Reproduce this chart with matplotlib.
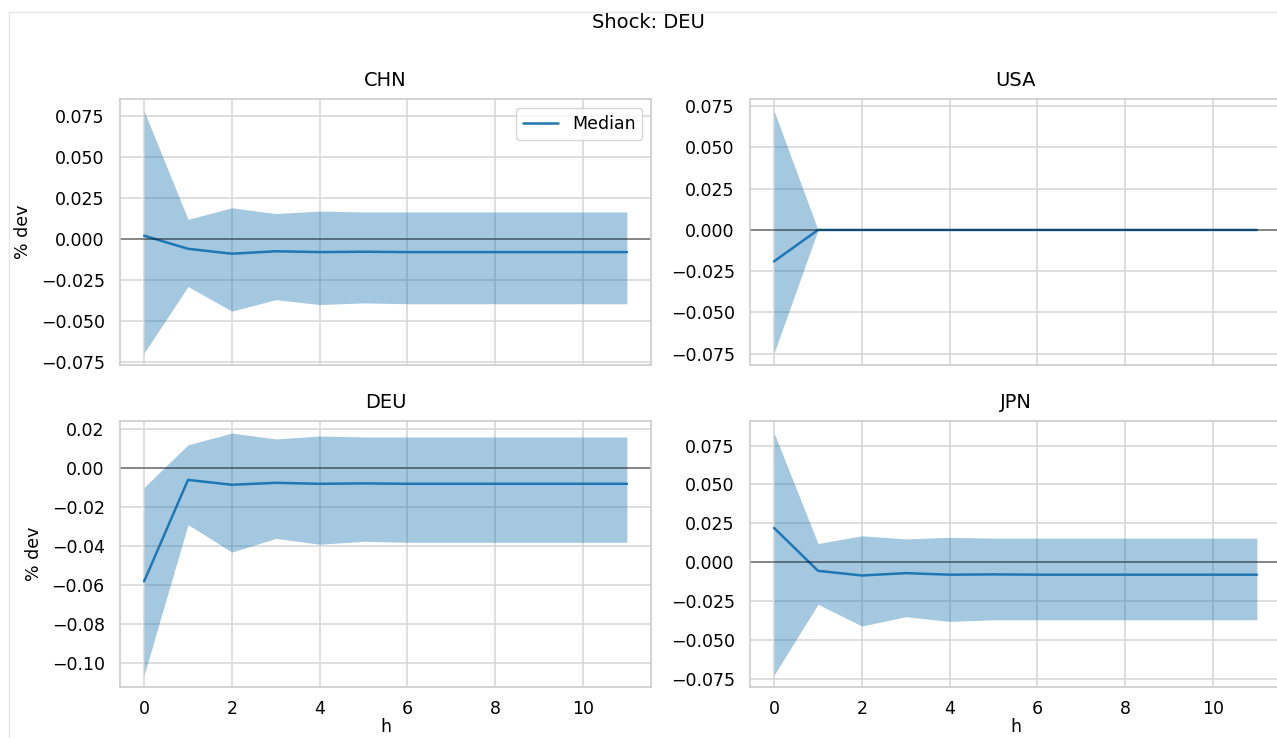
import numpy as np
import matplotlib.pyplot as plt
from matplotlib.lines import Line2D

# impulse responses to a DEU shock, horizons 0..11
h = list(range(12))

chn_median = [0.002, -0.006, -0.009, -0.0075, -0.008, -0.0078, -0.008, -0.008, -0.008, -0.008, -0.008, -0.008]
chn_lower = [-0.0695, -0.029, -0.044, -0.037, -0.040, -0.039, -0.0395, -0.0395, -0.0395, -0.0395, -0.0395, -0.0395]
chn_upper = [0.078, 0.012, 0.019, 0.0155, 0.017, 0.0165, 0.0165, 0.0165, 0.0165, 0.0165, 0.0165, 0.0165]

usa_median = [-0.019, 0, 0, 0, 0, 0, 0, 0, 0, 0, 0, 0]
usa_lower = [-0.0745, 0, 0, 0, 0, 0, 0, 0, 0, 0, 0, 0]
usa_upper = [0.072, 0, 0, 0, 0, 0, 0, 0, 0, 0, 0, 0]

deu_median = [-0.058, -0.006, -0.0085, -0.0075, -0.008, -0.0078, -0.008, -0.008, -0.008, -0.008, -0.008, -0.008]
deu_lower = [-0.106, -0.029, -0.043, -0.036, -0.039, -0.0375, -0.038, -0.038, -0.038, -0.038, -0.038, -0.038]
deu_upper = [-0.0098, 0.012, 0.018, 0.015, 0.0165, 0.016, 0.016, 0.016, 0.016, 0.016, 0.016, 0.016]

jpn_median = [0.022, -0.0055, -0.0085, -0.007, -0.008, -0.0078, -0.008, -0.008, -0.008, -0.008, -0.008, -0.008]
jpn_lower = [-0.0724, -0.027, -0.041, -0.035, -0.038, -0.037, -0.037, -0.037, -0.037, -0.037, -0.037, -0.037]
jpn_upper = [0.083, 0.012, 0.017, 0.015, 0.016, 0.0155, 0.0155, 0.0155, 0.0155, 0.0155, 0.0155, 0.0155]

countries = ["CHN", "USA", "DEU", "JPN"]
medians = [chn_median, usa_median, deu_median, jpn_median]
lowers = [chn_lower, usa_lower, deu_lower, jpn_lower]
uppers = [chn_upper, usa_upper, deu_upper, jpn_upper]

plt.style.use("seaborn-v0_8-whitegrid")
plt.rcParams["font.family"] = "DejaVu Sans"
plt.rcParams["xtick.labelsize"] = 12.5
plt.rcParams["ytick.labelsize"] = 12.5
plt.rcParams["axes.labelsize"] = 12.5
plt.rcParams["axes.titlesize"] = 14
plt.rcParams["text.color"] = "black"
plt.rcParams["axes.labelcolor"] = "black"
plt.rcParams["xtick.color"] = "black"
plt.rcParams["ytick.color"] = "black"

W, H = 1277.0, 738.0
fig = plt.figure(figsize=(12.77, 7.38), dpi=100)

# axes boxes in pixels: left, top, width, height
boxes = [(120, 99, 531, 266), (750, 99, 531, 266),
         (120, 421, 531, 266), (750, 421, 531, 266)]

axes = []
for i, (l, t, w, hh) in enumerate(boxes):
	ax = fig.add_axes([l / W, 1 - (t + hh) / H, w / W, hh / H])
	axes.append(ax)

for i, ax in enumerate(axes):
	ax.fill_between(h, lowers[i], uppers[i], color="C0", alpha=0.4, linewidth=0)
	ax.plot(h, medians[i], color="C0", linewidth=1.8, label="Median")
	ax.axhline(0, color="black", alpha=0.5, linewidth=1.1)
	ax.set_title(countries[i], pad=9)
	ax.set_xticks([0, 2, 4, 6, 8, 10])
	ax.tick_params(axis="y", pad=11)
	ax.tick_params(axis="x", pad=9)
	for s in ax.spines.values():
		s.set_color("#cccccc")
		s.set_linewidth(1.2)
	ax.grid(color="#d5d5d5", linewidth=1.1)
	if i < 2:
		ax.set_xticklabels([])
	else:
		ax.set_xlabel("h", labelpad=0)
	if i % 2 == 0:
		ax.set_ylabel("% dev", labelpad=6)

axes[0].legend(loc="upper right", frameon=True, fontsize=12.5)

fig.text(648 / W, 1 - 22 / H, "Shock: DEU", ha="center", va="center", fontsize=14)

# light frame of the notebook output cell
fig.add_artist(Line2D([9 / W, 9 / W], [0, 1 - 12 / H], color="#e6e6e6", linewidth=1, transform=fig.transFigure))
fig.add_artist(Line2D([9 / W, 1], [1 - 12 / H, 1 - 12 / H], color="#e6e6e6", linewidth=1, transform=fig.transFigure))

plt.savefig("out.png", dpi=100)
